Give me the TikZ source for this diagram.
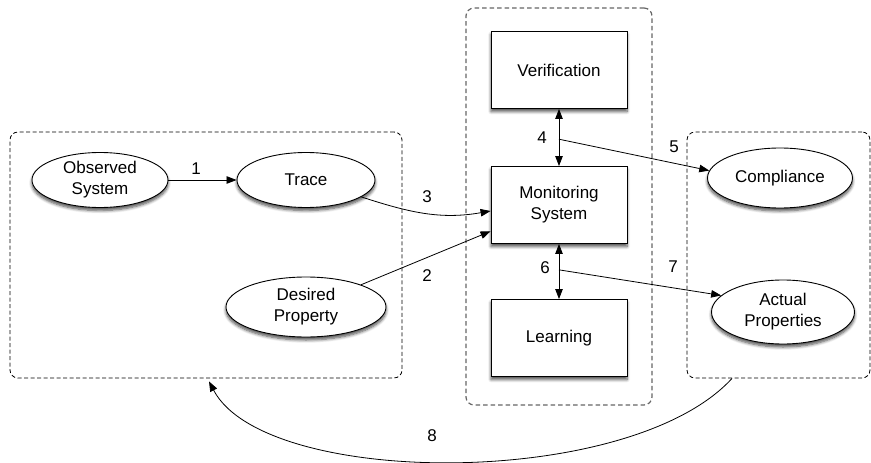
\documentclass[tikz,border=0pt]{standalone}
\usepackage{fontspec}
\setmainfont{Liberation Sans}
\usetikzlibrary{shapes.geometric,arrows.meta,shadows.blur,calc}
\begin{document}
\begin{tikzpicture}[x=1pt,y=-1pt,
  font=\fontsize{17}{21}\selectfont,
  every node/.style={inner sep=0pt},
  shad/.style={blur shadow={shadow xshift=0pt,shadow yshift=-3pt,shadow blur radius=3pt,shadow blur steps=6,shadow opacity=70}},
  ell/.style={ellipse,draw,fill=white,line width=0.9pt,align=center,shad},
  box/.style={rectangle,draw,fill=white,line width=0.9pt,align=center,shad,minimum width=136pt,minimum height=77pt},
  grp/.style={rectangle,draw=black,rounded corners=8pt,line width=0.8pt,dash pattern=on 4pt off 2.5pt},
  ggrp/.style={grp,draw=black!60,line width=1.2pt,dash pattern=on 4.5pt off 3pt},
  conn/.style={line width=0.8pt,-{Triangle[length=10pt,width=7.5pt]}},
  dconn/.style={line width=0.8pt,{Triangle[length=10pt,width=7.5pt]}-{Triangle[length=10pt,width=7.5pt]}},
  lab/.style={}]
\useasboundingbox (0,0) rectangle (871,463);
% groups
\node[grp,minimum width=392pt,minimum height=246pt] (lgrp) at (206,255) {};
\node[ggrp,minimum width=186pt,minimum height=397pt] (mgrp) at (559,206.5) {};
\node[grp,minimum width=183pt,minimum height=246pt] (rgrp) at (778.5,255) {};
% nodes
\node[ell,minimum width=136pt,minimum height=55pt] (obs) at (100,180) {Observed\\System};
\node[ell,minimum width=138pt,minimum height=55pt] (trace) at (306,180) {Trace};
\node[ell,minimum width=160pt,minimum height=60pt] (des) at (306,307) {Desired\\Property};
\node[box] (ver) at (559,70) {Verification};
\node[box] (mon) at (559,205) {Monitoring\\System};
\node[box] (lea) at (559,338) {Learning};
\node[ell,minimum width=145pt,minimum height=60pt] (comp) at (780,178) {Compliance};
\node[ell,minimum width=143pt,minimum height=64pt] (act) at (783,312) {Actual\\Properties};
% connectors
\draw[conn] (obs) -- (trace);
\node[lab] (l1) at (196,169) {1};
\draw[conn] (trace.-17) to[out=-18,in=190] (mon.-175);
\node[lab] (l3) at (427,197) {3};
\draw[conn] (des.22) -- (mon.-159);
\node[lab] (l2) at (427,276) {2};
\draw[dconn] (ver.south) -- (mon.north);
\coordinate (m4) at ($(ver.south)!0.53!(mon.north)$);
\node[lab] (l4) at (542,138) {4};
\draw[conn] (m4) -- (comp.174);
\node[lab] (l5) at (674,147) {5};
\draw[dconn] (mon.south) -- (lea.north);
\coordinate (m6) at ($(mon.south)!0.47!(lea.north)$);
\node[lab] (l6) at (545,268) {6};
\draw[conn] (m6) -- (act.165);
\node[lab] (l7) at (673,267) {7};
\coordinate (s8) at ([xshift=-46.5pt]rgrp.south);
\coordinate (e8) at ([xshift=3pt,yshift=-3pt]lgrp.south);
\draw[conn] (s8) .. controls (630,490) and (265,488) .. (e8);
\node[lab] (l8) at (432,436) {8};
\end{tikzpicture}
\end{document}
